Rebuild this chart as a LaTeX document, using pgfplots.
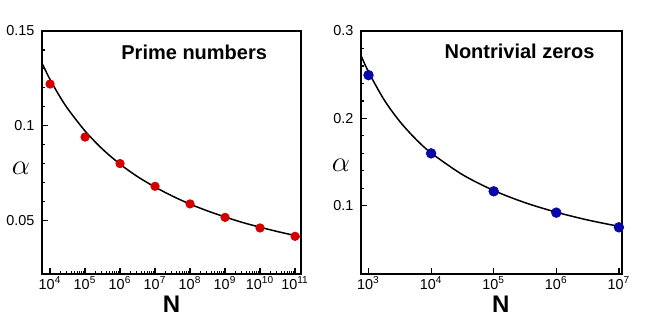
\documentclass[border=0pt]{standalone}
\usepackage{fontspec}
\setmainfont{Liberation Sans}
\usepackage{pgfplots}
\pgfplotsset{compat=1.18}
\definecolor{ptred}{HTML}{D40000}
\definecolor{ptblue}{HTML}{0808A8}
\pgfplotsset{
    panel/.style={
        scale only axis,
        height=121.5pt,
        axis line style={line width=0.8pt},
        tick pos=left,
        tick align=inside,
        major tick length=3pt,
        minor tick length=1.6pt,
        every tick/.style={black, line width=0.6pt},
        tick label style={font=\fontsize{7.2}{8}\selectfont},
        yticklabel style={xshift=-0.3pt},
        xticklabel style={yshift=-0.2pt, inner sep=1pt},
        xlabel={\fontsize{12}{13}\selectfont\bfseries N},
        ylabel={\fontsize{15.5}{17}\selectfont$\alpha$},
    },
}
\begin{document}
\begin{tikzpicture}
\useasboundingbox (0,0) rectangle (332pt,160pt);
% prime numbers
\begin{axis}[
    xmode=log,
    panel,
    at={(21pt,23pt)}, anchor=south west,
    width=129.5pt,
    xmin=5888, xmax=1.479e11,
    ymin=0.0217, ymax=0.15,
    xtick={1e4,1e5,1e6,1e7,1e8,1e9,1e10,1e11},
    xticklabels={10\textsuperscript{4},10\textsuperscript{5},10\textsuperscript{6},10\textsuperscript{7},10\textsuperscript{8},10\textsuperscript{9},10\textsuperscript{10},10\textsuperscript{11}},
    ytick={0.05,0.1,0.15},
    yticklabels={0.05,0.1,0.15},
    minor y tick num=4,
    every axis x label/.style={at={(rel axis cs:0.5,0)}, yshift=-15pt, anchor=center, inner sep=0pt},
    every axis y label/.style={at={(rel axis cs:0,0.437)}, xshift=-10.5pt, anchor=center},
]
\addplot[black, line width=0.75pt, smooth, no marks] coordinates {
    (5888,0.1330) (1e4,0.1244) (17783,0.1163) (31623,0.1091) (1e5,0.0972)
    (316228,0.0876) (1e6,0.0797) (3162278,0.0731) (1e7,0.0676) (3.162e7,0.0628)
    (1e8,0.0586) (3.162e8,0.0550) (1e9,0.0518) (3.162e9,0.0489) (1e10,0.0464)
    (3.162e10,0.0441) (1e11,0.0420) (1.479e11,0.0413)
};
\addplot[only marks, mark=*, mark size=2.1pt, color=ptred] coordinates {
    (1e4,0.122) (1e5,0.094) (1e6,0.080) (1e7,0.068)
    (1e8,0.0587) (1e9,0.0516) (1e10,0.046) (1e11,0.0416)
};
\node[anchor=east, font=\fontsize{10}{12}\selectfont\bfseries] at (rel axis cs:0.896,0.914) {Prime numbers};
\end{axis}
% nontrivial zeros
\begin{axis}[
    xmode=log,
    panel,
    at={(180.5pt,23pt)}, anchor=south west,
    width=130.5pt,
    xmin=759, xmax=1.122e7,
    ymin=0.022, ymax=0.3,
    xtick={1e3,1e4,1e5,1e6,1e7},
    xticklabels={10\textsuperscript{3},10\textsuperscript{4},10\textsuperscript{5},10\textsuperscript{6},10\textsuperscript{7}},
    xminorticks=false,
    ytick={0.1,0.2,0.3},
    yticklabels={0.1,0.2,0.3},
    minor y tick num=4,
    every axis x label/.style={at={(rel axis cs:0.536,0)}, yshift=-15pt, anchor=center, inner sep=0pt},
    every axis y label/.style={at={(rel axis cs:0,0.446)}, xshift=-10pt, anchor=center},
]
\addplot[black, line width=0.75pt, smooth, no marks] coordinates {
    (759,0.2720) (1000,0.2532) (1778,0.2212) (3162,0.1965) (5623,0.1767)
    (1e4,0.1605) (31623,0.1357) (1e5,0.1175) (316228,0.1036) (1e6,0.0927)
    (3162278,0.0838) (1e7,0.0765) (1.122e7,0.0758)
};
\addplot[only marks, mark=*, mark size=2.4pt, color=ptblue] coordinates {
    (1e3,0.2495) (1e4,0.160) (1e5,0.1166) (1e6,0.0922) (1e7,0.0754)
};
\node[anchor=east, font=\fontsize{10}{12}\selectfont\bfseries] at (rel axis cs:0.922,0.915) {Nontrivial zeros};
\end{axis}
\end{tikzpicture}
\end{document}
